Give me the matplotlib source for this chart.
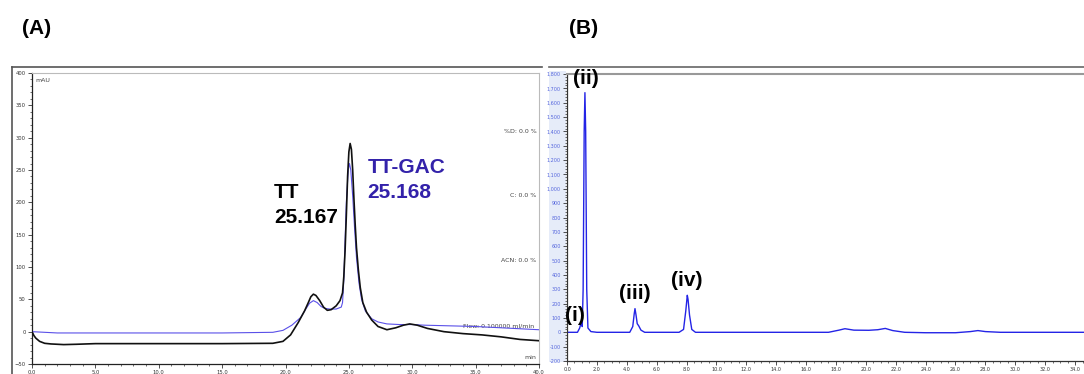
import matplotlib
matplotlib.use('Agg')

import numpy as np
import matplotlib.pyplot as plt
from matplotlib.lines import Line2D
from matplotlib.patches import Rectangle
from matplotlib.ticker import MultipleLocator, FuncFormatter

# --- (A) size-exclusion traces ---
tt_time = [0, 0.15, 0.3, 0.6, 1.0, 1.5, 2.5, 3.5, 5, 10, 15, 19, 19.8, 20.4, 21.0,
           21.5, 21.8, 22.0, 22.2, 22.4, 22.7, 23.0, 23.3, 23.6, 24.0, 24.3, 24.5,
           24.6, 24.7, 24.8, 24.9, 25.0, 25.1, 25.2, 25.3, 25.4, 25.5, 25.6, 25.75,
           25.9, 26.1, 26.4, 26.8, 27.3, 28.0, 28.7, 29.3, 29.8, 30.4, 31.2, 32.5,
           34, 35.5, 37, 38.5, 40]
tt_mau = [0, -6, -10, -15, -18, -19, -20, -19.5, -18.5, -18.5, -18.5, -18, -15, -5, 14,
          32, 45, 54, 58, 56, 48, 38, 33, 34, 40, 48, 60,
          85, 125, 180, 240, 278, 291, 282, 250, 205, 165, 130, 95,
          68, 45, 30, 18, 8, 3, 6, 10, 12, 10, 5, 0,
          -3, -5, -8, -12, -14]

gac_time = [0, 2, 5, 10, 15, 19, 19.8, 20.5, 21.2, 21.6, 21.9, 22.2, 22.5, 22.8, 23.1,
            23.5, 24.0, 24.4, 24.5, 24.6, 24.7, 24.8, 24.95, 25.05, 25.15, 25.3, 25.45,
            25.6, 25.8, 26.0, 26.3, 26.8, 27.3, 28.0, 29.0, 30.0, 31.0, 33, 35, 37,
            39, 40]
gac_mau = [0, -2, -2, -2, -2, -1, 2, 10, 22, 35, 44, 48, 45, 39, 36,
           35, 35, 38, 45, 80, 140, 200, 250, 260, 250, 210, 160,
           115, 75, 50, 32, 20, 15, 12, 11, 11, 10, 9, 8, 6,
           4, 3]

# --- (B) reverse-phase trace ---
b_time = [0, 0.7, 0.85, 0.95, 1.02, 1.08, 1.15, 1.2, 1.25, 1.32, 1.4, 1.6, 2, 3,
          4.2, 4.4, 4.5, 4.55, 4.62, 4.7, 4.8, 4.95, 5.2, 6, 7.5, 7.8, 7.95, 8.05,
          8.1, 8.2, 8.35, 8.6, 10, 15, 17.5, 18.2, 18.6, 19.2, 20.2, 20.8, 21.3,
          21.8, 22.6, 24, 26, 27, 27.5, 28, 29, 32, 34.6]
b_mau = [0, 0, 30, 70, 40, 300, 1400, 1670, 1400, 300, 30, 5, 0, 0,
         0, 40, 130, 165, 120, 60, 45, 15, 0, 0, 0, 20, 150, 258,
         230, 120, 20, 0, 0, 0, 0, 15, 25, 15, 14, 18, 27,
         12, 0, -3, -3, 5, 12, 5, 0, 0, 0]

a_side_labels = ['%D: 0.0 %', 'C: 0.0 %', 'ACN: 0.0 %']
a_side_y = [310, 210, 110]

b_peaks = ['(i)', '(ii)', '(iii)', '(iv)']
b_peak_t = [0.5, 1.25, 4.55, 8.0]
b_peak_v = [120, 1770, 270, 360]

W, H = 1084, 374
fig = plt.figure(figsize=(W / 100, H / 100), dpi=100)
fig.patch.set_facecolor('white')


def px_axes(l, t, r, b):
    return fig.add_axes([l / W, (H - b) / H, (r - l) / W, (b - t) / H])


bold = dict(family='Liberation Sans', weight='bold', fontsize=15)
fig.text(22 / W, 1 - 28 / H, '(A)', va='center', ha='left', **bold)
fig.text(569 / W, 1 - 28 / H, '(B)', va='center', ha='left', **bold)

# outer screenshot frames
fig.add_artist(Line2D([12 / W, 12 / W], [0, 1 - 67 / H], color='#555555', lw=1.2))
fig.add_artist(Line2D([12 / W, 542 / W], [1 - 67 / H] * 2, color='#555555', lw=1.2))
fig.add_artist(Line2D([549 / W, 1], [1 - 67 / H] * 2, color='#666666', lw=1.2))

# ---------------- panel A ----------------
ax = px_axes(32, 73, 539, 364)
ax.plot(gac_time, gac_mau, color='#5a50e8', lw=0.8, zorder=3)
ax.plot(tt_time, tt_mau, color='#111111', lw=1.2, zorder=4)
ax.set_xlim(0, 40)
ax.set_ylim(-50, 400)
ax.xaxis.set_major_locator(MultipleLocator(5))
ax.xaxis.set_minor_locator(MultipleLocator(1))
ax.yaxis.set_major_locator(MultipleLocator(50))
ax.yaxis.set_minor_locator(MultipleLocator(10))
ax.xaxis.set_major_formatter(FuncFormatter(lambda v, p: f'{v:.1f}'))
ax.tick_params(which='major', length=3, width=0.6, labelsize=3.8, pad=1.5, colors='#333333')
ax.tick_params(which='minor', length=1.5, width=0.5, colors='#333333')
for s in ['top', 'right']:
    ax.spines[s].set_color('#bbbbbb')
for s in ['left', 'bottom']:
    ax.spines[s].set_color('#222222')
    ax.spines[s].set_linewidth(0.9)

ax.text(0.3, 393, 'mAU', fontsize=4.5, color='#444444', va='top')
ax.text(19.1, 207, 'TT', ha='left', va='baseline', **bold)
ax.text(19.1, 168, '25.167', ha='left', va='baseline', **bold)
ax.text(26.45, 245, 'TT-GAC', ha='left', va='baseline', color='#3322aa',
        family='Liberation Sans', weight='bold', fontsize=15)
ax.text(26.45, 207, '25.168', ha='left', va='baseline', color='#3322aa',
        family='Liberation Sans', weight='bold', fontsize=15)
for lab, yv in zip(a_side_labels, a_side_y):
    ax.text(39.8, yv, lab, ha='right', va='center', fontsize=4.5, color='#444444')
ax.text(39.6, 9, 'Flow: 0.100000 ml/min', ha='right', va='center', fontsize=4.5,
        color='#444444', zorder=2)
ax.text(39.8, -40, 'min', ha='right', va='center', fontsize=4.5, color='#444444')

# ---------------- panel B ----------------
fig.add_artist(Rectangle((549 / W, (H - 362) / H), 17 / W, 291 / H,
                         facecolor='#e6ecf9', edgecolor='none', zorder=0))
bx = px_axes(567, 74, W, 361)
bx.set_facecolor('none')
bx.plot(b_time, b_mau, color='#2424e6', lw=1.0)
bx.set_xlim(0, 34.6)
bx.set_ylim(-200, 1800)
bx.xaxis.set_major_locator(MultipleLocator(2))
bx.xaxis.set_minor_locator(MultipleLocator(0.5))
bx.yaxis.set_major_locator(MultipleLocator(100))
bx.yaxis.set_minor_locator(MultipleLocator(20))
bx.xaxis.set_major_formatter(FuncFormatter(lambda v, p: f'{v:.1f}'))
bx.yaxis.set_major_formatter(FuncFormatter(lambda v, p: f'{int(v):,}'))
bx.tick_params(which='major', length=3, width=0.6, labelsize=3.5, pad=1.5, colors='#333333')
bx.tick_params(which='minor', length=1.5, width=0.5, colors='#333333')
for t in bx.get_yticklabels():
    t.set_color('#5566dd')
bx.spines['right'].set_visible(False)
bx.spines['top'].set_color('#999999')
bx.spines['top'].set_linewidth(1.5)
for s in ['left', 'bottom']:
    bx.spines[s].set_color('#333333')
    bx.spines[s].set_linewidth(0.9)

for lab, tv, yv in zip(b_peaks, b_peak_t, b_peak_v):
    bx.text(tv, yv, lab, ha='center', va='center', **bold)

fig.savefig('out.png', dpi=100)
